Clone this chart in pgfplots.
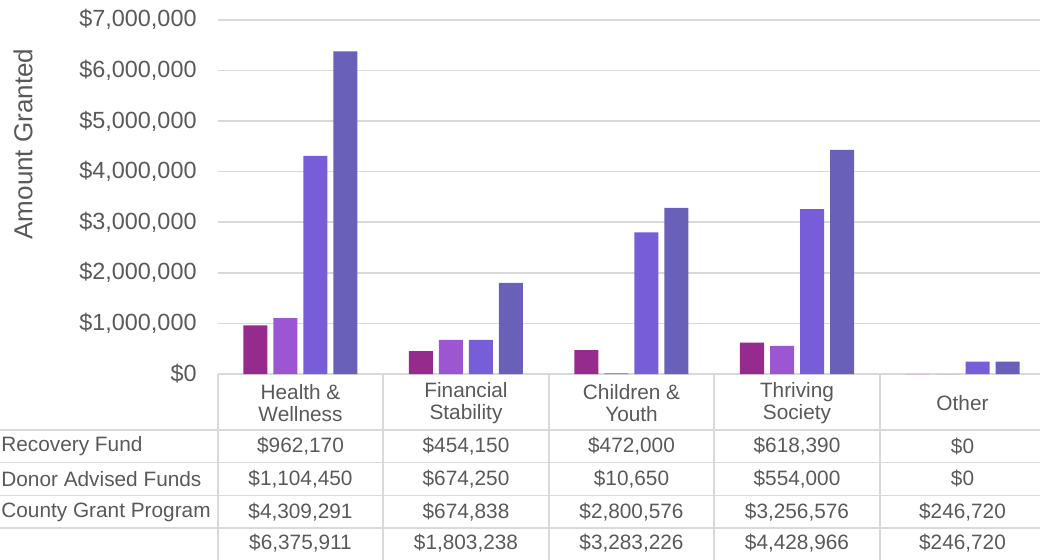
\documentclass[border=0pt]{standalone}
\usepackage{pgfplots}
\pgfplotsset{compat=1.18}
\usepackage{fontspec}
\setmainfont{Liberation Sans}
\definecolor{txt}{HTML}{595959}
\definecolor{gridc}{HTML}{D9D9D9}
\definecolor{c1}{HTML}{952B8C}
\definecolor{c2}{HTML}{9C56D2}
\definecolor{c3}{HTML}{775DD8}
\definecolor{c4}{HTML}{6860B9}
\newcommand{\tfont}{\fontsize{10.4}{11.3}\selectfont}
\begin{document}
\begin{tikzpicture}
\begin{axis}[
  at={(0,0)}, anchor=south west,
  scale only axis, width=413.75pt, height=177.1pt,
  xmin=-0.5, xmax=4.5, ymin=0, ymax=7000000,
  ybar=3pt, bar width=12pt,
  axis line style={draw=none},
  major tick length=0pt,
  xtick={0,...,4},
  xticklabels={{Health \&\\Wellness},{Financial\\Stability},{Children \&\\Youth},{Thriving\\Society},{Other}},
  xticklabel style={anchor=center, yshift=-14.5pt, align=center, font=\tfont, text=txt},
  ytick={0,1000000,2000000,3000000,4000000,5000000,6000000,7000000},
  scaled y ticks=false,
  yticklabel={\$\pgfmathprintnumber{\tick}},
  yticklabel style={anchor=east, inner sep=0pt, xshift=-10.4pt, font=\fontsize{11.7}{14}\selectfont, text=txt, /pgf/number format/.cd, fixed, precision=0, 1000 sep={,}, assume math mode=true},
  ymajorgrids, grid style={gridc, line width=0.8pt},
  clip=false,
]
\addplot[fill=c1, draw=none] coordinates {(0,962170) (1,454150) (2,472000) (3,618390) (4,0)};
\addplot[fill=c2, draw=none] coordinates {(0,1104450) (1,674250) (2,10650) (3,554000) (4,0)};
\addplot[fill=c3, draw=none] coordinates {(0,4309291) (1,674838) (2,2800576) (3,3256576) (4,246720)};
\addplot[fill=c4, draw=none] coordinates {(0,6375911) (1,1803238) (2,3283226) (3,4428966) (4,246720)};
\end{axis}
\begin{scope}[x=0.5pt,y=-0.5pt,shift={(-108.875pt,187pt)}]
  \foreach \x in {218,383.25,548.75,714.25,879.75}
    \draw[gridc, line width=0.8pt] (\x,374) -- (\x,570);
  \foreach \y in {430,462.5,495.5,528}
    \draw[gridc, line width=0.8pt] (-10,\y) -- (1060,\y);
  \begin{scope}[every node/.style={font=\tfont, text=txt, inner sep=0pt}]
    \node[anchor=west] at (1,446.5) {Recovery Fund};
    \node[anchor=west] at (1,479) {Donor Advised Funds};
    \node[anchor=west] at (1,512) {County Grant Program};
    \node at (300.5,446.5) {\$962,170};
    \node at (466,446.5) {\$454,150};
    \node at (631.5,446.5) {\$472,000};
    \node at (797,446.5) {\$618,390};
    \node at (962.5,446.5) {\$0};
    \node at (300.5,479) {\$1,104,450};
    \node at (466,479) {\$674,250};
    \node at (631.5,479) {\$10,650};
    \node at (797,479) {\$554,000};
    \node at (962.5,479) {\$0};
    \node at (300.5,512) {\$4,309,291};
    \node at (466,512) {\$674,838};
    \node at (631.5,512) {\$2,800,576};
    \node at (797,512) {\$3,256,576};
    \node at (962.5,512) {\$246,720};
    \node at (300.5,543.5) {\$6,375,911};
    \node at (466,543.5) {\$1,803,238};
    \node at (631.5,543.5) {\$3,283,226};
    \node at (797,543.5) {\$4,428,966};
    \node at (962.5,543.5) {\$246,720};
  \end{scope}
  \node[rotate=90, font=\fontsize{13}{15}\selectfont, text=txt, inner sep=0pt] at (23,144) {Amount Granted};
\end{scope}
\pgfresetboundingbox
\useasboundingbox (-108.875pt,-92.5pt) rectangle (411.125pt,187pt);
\end{tikzpicture}
\end{document}
